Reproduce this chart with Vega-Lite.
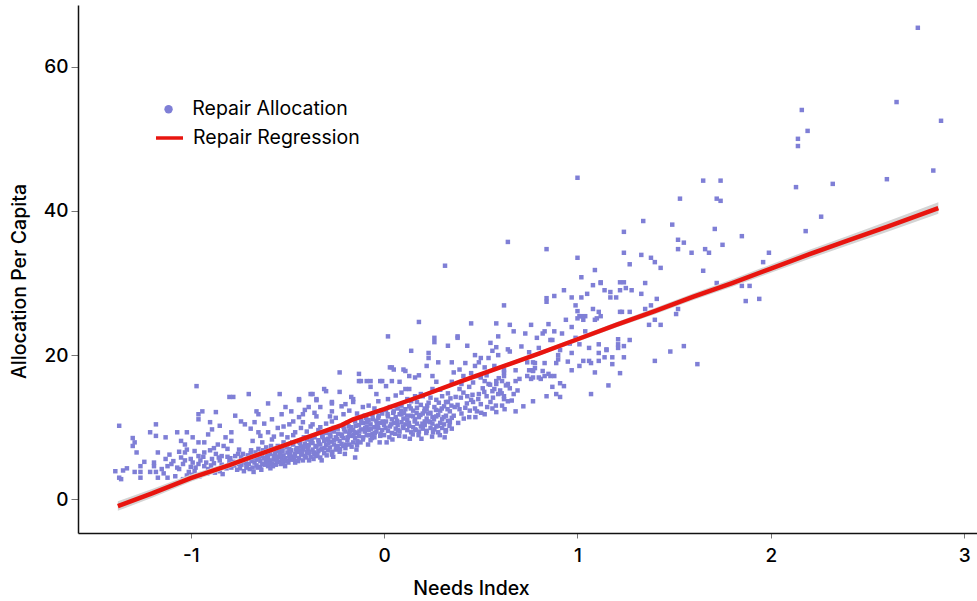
{
  "$schema": "https://vega.github.io/schema/vega-lite/v6.json",
  "width": 899,
  "height": 528,
  "autosize": {"type": "none"},
  "padding": {"left": 78, "top": 5, "right": 0, "bottom": 68},
  "background": "white",
  "config": {
    "view": {"stroke": null},
    "axis": {"grid": false, "domainColor": "#111", "domainWidth": 1.5, "tickColor": "#777", "tickWidth": 1, "labelFont": "Inter", "labelFontSize": 19, "labelFontWeight": 500, "labelColor": "#000", "titleFont": "Inter", "titleFontSize": 19.5, "titleColor": "#000", "titleFontWeight": 500},
    "legend": {"labelFont": "Inter", "labelFontSize": 19.5, "labelFontWeight": 400, "labelColor": "#000", "labelLimit": 400}
  },
  "datasets": {
    "pts": [
      {"x":-1.37,"y":10.2},{"x":-1.39,"y":3.9},{"x":-1.35,"y":4.0},{"x":-1.36,"y":2.8},{"x":-1.37,"y":3.0},{"x":-1.30,"y":8.5},{"x":-1.29,"y":7.9},{"x":-1.28,"y":6.5},{"x":-1.30,"y":7.4},{"x":-1.26,"y":4.6},{"x":-1.26,"y":3.8},{"x":-1.26,"y":3.0},{"x":-1.29,"y":3.8},{"x":-1.21,"y":9.3},{"x":-1.18,"y":10.4},{"x":-1.18,"y":8.8},{"x":-1.17,"y":6.5},{"x":-1.19,"y":5.1},{"x":-1.19,"y":4.6},{"x":-1.18,"y":3.8},{"x":-1.17,"y":3.0},{"x":-1.21,"y":3.8},{"x":-1.13,"y":8.6},{"x":-1.07,"y":9.3},{"x":-1.02,"y":9.3},{"x":-1.05,"y":8.1},{"x":-1.03,"y":7.6},{"x":-1.02,"y":6.9},{"x":-1.13,"y":5.6},{"x":-1.12,"y":4.6},{"x":-1.10,"y":4.9},{"x":-1.05,"y":5.8},{"x":-1.06,"y":4.2},{"x":-1.08,"y":3.2},{"x":-1.12,"y":3.0},{"x":-1.04,"y":4.9},{"x":-1.01,"y":3.8},{"x":-1.04,"y":2.8},
      {"x":-1.15,"y":4.2},{"x":-1.09,"y":5.3},{"x":-1.07,"y":4.4},{"x":-1.03,"y":5.4},{"x":-1.00,"y":4.5},{"x":-1.11,"y":6.2},{"x":-1.24,"y":5.2},{"x":-1.33,"y":4.3},{"x":-1.14,"y":3.6},{"x":-1.02,"y":3.3},{"x":-0.99,"y":5.1},{"x":-1.06,"y":6.6},
      {"x":-0.97,"y":15.7},{"x":-0.96,"y":11.8},{"x":-0.94,"y":12.2},{"x":-0.96,"y":11.1},{"x":-0.90,"y":10.7},{"x":-0.89,"y":9.7},{"x":-0.87,"y":12.1},{"x":-0.99,"y":8.6},{"x":-0.96,"y":7.9},{"x":-0.93,"y":7.9},{"x":-1.03,"y":6.5},{"x":-1.00,"y":5.6},{"x":-0.96,"y":6.0},{"x":-0.92,"y":5.1},{"x":-0.96,"y":4.9},{"x":-0.91,"y":4.2},{"x":-0.98,"y":3.9},{"x":-0.94,"y":3.5},{"x":-0.89,"y":5.6},{"x":-0.87,"y":6.3},{"x":-0.80,"y":14.2},{"x":-0.78,"y":14.2},{"x":-0.70,"y":14.6},{"x":-0.74,"y":10.8},{"x":-0.72,"y":10.4},{"x":-0.79,"y":9.3},{"x":-0.82,"y":8.6},{"x":-0.86,"y":7.6},{"x":-0.83,"y":7.4},{"x":-0.79,"y":8.1},{"x":-0.84,"y":6.0},{"x":-0.80,"y":5.3},{"x":-0.77,"y":6.0},{"x":-0.75,"y":6.9},{"x":-0.82,"y":4.6},{"x":-0.79,"y":4.4},{"x":-0.75,"y":4.9},{"x":-0.86,"y":4.2},{"x":-0.72,"y":5.3},
      {"x":-0.95,"y":5.4},{"x":-0.93,"y":4.6},{"x":-0.90,"y":6.8},{"x":-0.88,"y":5.0},{"x":-0.85,"y":5.4},{"x":-0.84,"y":4.8},{"x":-0.81,"y":5.9},{"x":-0.78,"y":5.2},{"x":-0.76,"y":4.1},{"x":-0.74,"y":5.8},{"x":-0.73,"y":6.3},{"x":-0.71,"y":4.6},{"x":-0.91,"y":9.0},{"x":-0.85,"y":10.2},{"x":-0.77,"y":11.6},{"x":-0.93,"y":6.5},{"x":-0.88,"y":7.1},{"x":-0.81,"y":7.0},{"x":-0.98,"y":6.7},{"x":-0.85,"y":3.9},
      {"x":-0.995,"y":3.4},{"x":-0.975,"y":4.4},{"x":-0.955,"y":3.2},{"x":-0.935,"y":5.9},{"x":-0.915,"y":3.6},{"x":-0.895,"y":4.7},{"x":-0.875,"y":3.7},{"x":-0.855,"y":5.8},{"x":-0.835,"y":3.5},{"x":-0.815,"y":4.3},{"x":-0.795,"y":5.7},{"x":-0.775,"y":4.7},{"x":-0.755,"y":6.3},
      {"x":-0.66,"y":12.2},{"x":-0.65,"y":11.8},{"x":-0.67,"y":10.7},{"x":-0.60,"y":13.3},{"x":-0.54,"y":14.6},{"x":-0.65,"y":9.3},{"x":-0.68,"y":8.1},{"x":-0.63,"y":7.9},{"x":-0.60,"y":9.3},{"x":-0.58,"y":8.3},{"x":-0.53,"y":9.0},{"x":-0.53,"y":11.8},{"x":-0.51,"y":12.8},{"x":-0.48,"y":12.2},{"x":-0.47,"y":10.8},{"x":-0.52,"y":10.1},{"x":-0.44,"y":11.4},{"x":-0.44,"y":13.75},
      {"x":-0.70,"y":4.9},{"x":-0.69,"y":5.6},{"x":-0.69,"y":6.4},{"x":-0.68,"y":4.4},{"x":-0.67,"y":5.1},{"x":-0.67,"y":6.0},{"x":-0.66,"y":4.7},{"x":-0.66,"y":5.5},{"x":-0.65,"y":6.2},{"x":-0.65,"y":7.0},{"x":-0.64,"y":4.5},{"x":-0.64,"y":5.3},{"x":-0.63,"y":6.0},{"x":-0.63,"y":4.9},{"x":-0.62,"y":5.7},{"x":-0.62,"y":6.6},{"x":-0.61,"y":5.1},{"x":-0.61,"y":7.2},{"x":-0.60,"y":5.8},{"x":-0.60,"y":4.6},{"x":-0.59,"y":6.3},{"x":-0.59,"y":5.4},{"x":-0.58,"y":7.0},{"x":-0.58,"y":4.9},{"x":-0.57,"y":6.0},{"x":-0.57,"y":5.5},{"x":-0.56,"y":6.7},{"x":-0.56,"y":4.8},{"x":-0.55,"y":5.9},{"x":-0.55,"y":7.4},{"x":-0.54,"y":5.2},{"x":-0.54,"y":6.4},{"x":-0.53,"y":5.6},{"x":-0.53,"y":6.9},{"x":-0.52,"y":5.0},{"x":-0.52,"y":6.1},{"x":-0.51,"y":7.5},{"x":-0.51,"y":5.7},{"x":-0.50,"y":6.5},{"x":-0.50,"y":5.3},{"x":-0.49,"y":7.0},{"x":-0.49,"y":6.0},{"x":-0.48,"y":5.5},{"x":-0.48,"y":6.8},{"x":-0.47,"y":7.6},{"x":-0.47,"y":5.9},{"x":-0.46,"y":6.3},{"x":-0.46,"y":5.1},{"x":-0.45,"y":7.1},{"x":-0.45,"y":6.6},{"x":-0.44,"y":5.7},{"x":-0.44,"y":8.0},{"x":-0.43,"y":6.2},{"x":-0.43,"y":7.3},{"x":-0.42,"y":5.4},{"x":-0.42,"y":6.9},{"x":-0.41,"y":7.7},{"x":-0.41,"y":6.0},{"x":-0.40,"y":6.6},{"x":-0.40,"y":8.3},
      {"x":-0.745,"y":4.3},{"x":-0.735,"y":5.6},{"x":-0.725,"y":3.9},{"x":-0.715,"y":5.0},{"x":-0.705,"y":6.1},{"x":-0.695,"y":4.2},{"x":-0.685,"y":5.3},{"x":-0.675,"y":3.8},{"x":-0.665,"y":6.5},{"x":-0.655,"y":4.4},{"x":-0.645,"y":5.9},{"x":-0.635,"y":4.1},{"x":-0.625,"y":6.8},{"x":-0.615,"y":4.8},{"x":-0.605,"y":6.2},{"x":-0.595,"y":5.0},{"x":-0.585,"y":7.4},{"x":-0.575,"y":4.6},{"x":-0.565,"y":6.4},{"x":-0.555,"y":5.3},{"x":-0.545,"y":7.0},{"x":-0.535,"y":4.9},{"x":-0.525,"y":6.7},{"x":-0.515,"y":5.4},{"x":-0.505,"y":7.2},{"x":-0.495,"y":5.1},{"x":-0.485,"y":6.3},{"x":-0.475,"y":7.9},{"x":-0.465,"y":5.6},{"x":-0.455,"y":6.9},{"x":-0.445,"y":5.3},{"x":-0.435,"y":7.8},{"x":-0.425,"y":6.4},{"x":-0.415,"y":8.6},{"x":-0.405,"y":5.8},{"x":-0.395,"y":7.1},{"x":-0.385,"y":6.6},{"x":-0.375,"y":8.4},{"x":-0.365,"y":5.6},{"x":-0.355,"y":7.4},
      {"x":-0.738,"y":4.8},{"x":-0.712,"y":4.4},{"x":-0.688,"y":6.8},{"x":-0.662,"y":5.8},{"x":-0.638,"y":6.4},{"x":-0.612,"y":5.5},{"x":-0.588,"y":4.3},{"x":-0.562,"y":5.9},{"x":-0.538,"y":6.1},{"x":-0.512,"y":4.6},{"x":-0.488,"y":5.8},{"x":-0.462,"y":6.0},{"x":-0.438,"y":6.7},{"x":-0.412,"y":7.3},{"x":-0.388,"y":5.4},{"x":-0.362,"y":6.5},
      {"x":-0.69,"y":9.8},{"x":-0.62,"y":10.5},{"x":-0.57,"y":8.7},{"x":-0.55,"y":9.9},{"x":-0.50,"y":8.6},{"x":-0.49,"y":10.4},{"x":-0.46,"y":9.3},{"x":-0.43,"y":9.9},{"x":-0.41,"y":12.4},{"x":-0.58,"y":11.1},{"x":-0.64,"y":8.8},{"x":-0.52,"y":7.9},{"x":-0.47,"y":8.9},
      {"x":-0.38,"y":14.6},{"x":-0.35,"y":13.75},{"x":-0.30,"y":15.0},{"x":-0.27,"y":13.3},{"x":-0.42,"y":10.7},{"x":-0.40,"y":9.4},{"x":-0.37,"y":10.4},{"x":-0.35,"y":11.5},{"x":-0.33,"y":10.0},{"x":-0.28,"y":11.5},{"x":-0.27,"y":10.8},{"x":-0.23,"y":14.9},{"x":-0.20,"y":13.2},{"x":-0.16,"y":13.5},{"x":-0.13,"y":16.4},{"x":-0.09,"y":16.4},{"x":-0.07,"y":15.6},{"x":-0.04,"y":14.6},{"x":-0.01,"y":16.4},{"x":0.01,"y":15.7},{"x":0.04,"y":16.4},{"x":-0.15,"y":5.8},{"x":-0.23,"y":17.6},{"x":-0.13,"y":17.4},{"x":-0.12,"y":16.4},{"x":-0.07,"y":16.4},{"x":-0.02,"y":16.4},{"x":-0.37,"y":14.6},{"x":-0.31,"y":15.3},{"x":-0.35,"y":13.9},{"x":-0.27,"y":13.5},{"x":-0.22,"y":12.9},{"x":-0.17,"y":14.2},{"x":-0.16,"y":13.9},{"x":-0.44,"y":13.9},{"x":-0.39,"y":12.8},{"x":-0.42,"y":11.8},{"x":-0.33,"y":12.8},{"x":-0.27,"y":12.2},
      {"x":-0.39,"y":6.4},{"x":-0.39,"y":7.5},{"x":-0.38,"y":5.9},{"x":-0.38,"y":8.0},{"x":-0.37,"y":6.9},{"x":-0.37,"y":7.8},{"x":-0.36,"y":6.2},{"x":-0.36,"y":8.6},{"x":-0.35,"y":7.3},{"x":-0.35,"y":6.0},{"x":-0.34,"y":8.2},{"x":-0.34,"y":6.7},{"x":-0.33,"y":7.6},{"x":-0.33,"y":5.8},{"x":-0.32,"y":8.8},{"x":-0.32,"y":7.0},{"x":-0.31,"y":6.4},{"x":-0.31,"y":8.1},{"x":-0.30,"y":7.5},{"x":-0.30,"y":9.2},{"x":-0.29,"y":6.8},{"x":-0.29,"y":8.4},{"x":-0.28,"y":7.2},{"x":-0.28,"y":9.0},{"x":-0.27,"y":6.2},{"x":-0.27,"y":8.0},{"x":-0.26,"y":7.6},{"x":-0.26,"y":9.4},{"x":-0.25,"y":6.9},{"x":-0.25,"y":8.6},{"x":-0.24,"y":7.4},{"x":-0.24,"y":9.8},{"x":-0.23,"y":8.1},{"x":-0.23,"y":6.6},{"x":-0.22,"y":9.0},{"x":-0.22,"y":7.7},{"x":-0.21,"y":8.5},{"x":-0.21,"y":10.1},{"x":-0.20,"y":7.1},{"x":-0.20,"y":9.4},{"x":-0.19,"y":8.2},{"x":-0.19,"y":10.6},{"x":-0.18,"y":7.6},{"x":-0.18,"y":9.1},{"x":-0.17,"y":8.8},{"x":-0.17,"y":10.0},{"x":-0.16,"y":7.9},{"x":-0.16,"y":9.6},{"x":-0.15,"y":8.5},{"x":-0.15,"y":10.8},{"x":-0.14,"y":9.2},{"x":-0.14,"y":7.5},{"x":-0.13,"y":10.3},{"x":-0.13,"y":8.8},{"x":-0.12,"y":9.7},{"x":-0.12,"y":11.2},{"x":-0.11,"y":8.3},{"x":-0.11,"y":10.6},{"x":-0.10,"y":9.4},{"x":-0.10,"y":11.6},{"x":-0.09,"y":8.9},{"x":-0.09,"y":10.1},{"x":-0.08,"y":9.6},{"x":-0.08,"y":11.0},{"x":-0.07,"y":8.2},{"x":-0.07,"y":10.4},{"x":-0.06,"y":9.1},{"x":-0.06,"y":11.7},{"x":-0.05,"y":10.0},{"x":-0.05,"y":8.6},{"x":-0.04,"y":10.9},{"x":-0.04,"y":9.4},{"x":-0.03,"y":11.3},{"x":-0.03,"y":9.9},{"x":-0.02,"y":8.8},{"x":-0.02,"y":10.6},{"x":-0.01,"y":9.6},{"x":-0.01,"y":11.9},{"x":0.00,"y":10.3},{"x":0.00,"y":8.9},
      {"x":-0.345,"y":6.3},{"x":-0.338,"y":7.9},{"x":-0.327,"y":6.9},{"x":-0.318,"y":8.6},{"x":-0.308,"y":7.1},{"x":-0.297,"y":6.1},{"x":-0.288,"y":7.8},{"x":-0.277,"y":8.7},{"x":-0.268,"y":6.6},{"x":-0.258,"y":8.2},{"x":-0.247,"y":7.2},{"x":-0.238,"y":9.1},{"x":-0.228,"y":7.0},{"x":-0.218,"y":8.8},{"x":-0.207,"y":9.7},{"x":-0.198,"y":7.6},{"x":-0.188,"y":8.6},{"x":-0.178,"y":9.5},{"x":-0.168,"y":7.3},{"x":-0.158,"y":8.9},{"x":-0.147,"y":10.2},{"x":-0.138,"y":8.1},{"x":-0.128,"y":9.4},{"x":-0.118,"y":10.8},{"x":-0.108,"y":8.6},{"x":-0.098,"y":9.9},{"x":-0.088,"y":10.7},{"x":-0.078,"y":8.9},{"x":-0.068,"y":9.8},{"x":-0.058,"y":11.1},{"x":-0.048,"y":9.2},{"x":-0.038,"y":10.3},{"x":-0.028,"y":11.6},{"x":-0.018,"y":9.1},{"x":-0.008,"y":10.8},
      {"x":-0.333,"y":9.3},{"x":-0.302,"y":8.3},{"x":-0.272,"y":9.6},{"x":-0.243,"y":8.4},{"x":-0.212,"y":7.4},{"x":-0.183,"y":10.1},{"x":-0.153,"y":9.3},{"x":-0.122,"y":7.9},{"x":-0.093,"y":11.3},{"x":-0.063,"y":8.5},{"x":-0.033,"y":10.0},{"x":-0.013,"y":12.3},{"x":-0.323,"y":5.4},{"x":-0.263,"y":5.9},{"x":-0.203,"y":6.3},{"x":-0.143,"y":6.9},{"x":-0.083,"y":7.6},{"x":-0.023,"y":7.9},
      {"x":-0.38,"y":10.1},{"x":-0.34,"y":9.6},{"x":-0.30,"y":10.5},{"x":-0.25,"y":11.3},{"x":-0.21,"y":11.8},{"x":-0.18,"y":12.3},{"x":-0.14,"y":11.9},{"x":-0.11,"y":12.8},{"x":-0.08,"y":13.0},{"x":-0.05,"y":12.6},{"x":-0.03,"y":13.6},{"x":-0.36,"y":12.0},{"x":-0.26,"y":9.9},
      {"x":0.04,"y":18.3},{"x":0.10,"y":18.0},{"x":0.13,"y":17.1},{"x":0.08,"y":16.3},{"x":0.13,"y":15.3},{"x":0.16,"y":14.3},{"x":0.17,"y":13.5},{"x":0.12,"y":13.9},{"x":0.06,"y":12.9},{"x":0.09,"y":11.8},{"x":0.15,"y":11.5},{"x":0.21,"y":10.8},{"x":0.22,"y":18.5},{"x":0.25,"y":17.1},{"x":0.27,"y":16.3},{"x":0.25,"y":15.3},{"x":0.30,"y":14.3},{"x":0.32,"y":13.5},{"x":0.20,"y":14.3},{"x":0.22,"y":12.5},{"x":0.27,"y":11.5},{"x":0.34,"y":10.7},{"x":0.03,"y":18.3},{"x":0.05,"y":18.0},{"x":0.11,"y":17.8},{"x":0.16,"y":16.9},{"x":0.18,"y":17.2},{"x":0.18,"y":24.6},{"x":0.02,"y":22.6},{"x":0.26,"y":22.4},{"x":0.26,"y":21.8},{"x":0.14,"y":20.6},{"x":0.23,"y":20.3},{"x":0.23,"y":19.6},{"x":0.28,"y":19.0},{"x":0.315,"y":32.4},
      {"x":0.01,"y":10.8},{"x":0.01,"y":12.4},{"x":0.02,"y":9.5},{"x":0.02,"y":11.5},{"x":0.03,"y":10.1},{"x":0.03,"y":12.8},{"x":0.04,"y":9.2},{"x":0.04,"y":11.1},{"x":0.05,"y":10.6},{"x":0.05,"y":12.2},{"x":0.06,"y":9.8},{"x":0.06,"y":11.4},{"x":0.07,"y":10.3},{"x":0.07,"y":12.6},{"x":0.08,"y":9.4},{"x":0.08,"y":11.8},{"x":0.09,"y":10.7},{"x":0.09,"y":13.0},{"x":0.10,"y":9.9},{"x":0.10,"y":11.2},{"x":0.11,"y":10.4},{"x":0.11,"y":12.5},{"x":0.12,"y":9.6},{"x":0.12,"y":11.0},{"x":0.13,"y":10.2},{"x":0.13,"y":12.9},{"x":0.14,"y":9.3},{"x":0.14,"y":11.6},{"x":0.15,"y":10.0},{"x":0.15,"y":12.3},{"x":0.16,"y":9.7},{"x":0.16,"y":11.1},{"x":0.17,"y":10.5},{"x":0.17,"y":12.7},{"x":0.18,"y":9.4},{"x":0.18,"y":11.4},{"x":0.19,"y":10.1},{"x":0.19,"y":13.1},{"x":0.20,"y":9.8},{"x":0.20,"y":11.9},{"x":0.21,"y":10.3},{"x":0.21,"y":12.6},{"x":0.22,"y":9.5},{"x":0.22,"y":11.2},{"x":0.23,"y":10.8},{"x":0.23,"y":13.4},{"x":0.24,"y":9.9},{"x":0.24,"y":12.0},{"x":0.25,"y":10.5},{"x":0.25,"y":11.4},{"x":0.26,"y":9.7},{"x":0.26,"y":12.8},{"x":0.27,"y":10.1},{"x":0.28,"y":11.7},{"x":0.28,"y":9.3},{"x":0.29,"y":10.6},{"x":0.29,"y":12.3},{"x":0.30,"y":9.9},{"x":0.30,"y":11.1},{"x":0.31,"y":10.4},{"x":0.31,"y":12.9},{"x":0.32,"y":9.6},{"x":0.32,"y":11.6},{"x":0.33,"y":10.9},{"x":0.34,"y":12.2},{"x":0.35,"y":9.8},{"x":0.35,"y":11.3},
      {"x":0.008,"y":9.9},{"x":0.018,"y":11.8},{"x":0.027,"y":8.6},{"x":0.037,"y":10.4},{"x":0.047,"y":12.0},{"x":0.057,"y":9.1},{"x":0.067,"y":10.9},{"x":0.078,"y":8.8},{"x":0.088,"y":12.3},{"x":0.097,"y":10.1},{"x":0.107,"y":8.7},{"x":0.118,"y":11.6},{"x":0.128,"y":10.6},{"x":0.138,"y":12.6},{"x":0.148,"y":9.0},{"x":0.158,"y":10.8},{"x":0.168,"y":12.0},{"x":0.178,"y":8.9},{"x":0.188,"y":11.7},{"x":0.198,"y":10.5},{"x":0.208,"y":12.2},{"x":0.218,"y":9.2},{"x":0.228,"y":11.9},{"x":0.238,"y":10.7},{"x":0.248,"y":8.7},{"x":0.258,"y":11.1},{"x":0.268,"y":12.4},{"x":0.278,"y":10.2},{"x":0.288,"y":8.9},{"x":0.298,"y":12.6},{"x":0.308,"y":11.4},{"x":0.318,"y":9.4},{"x":0.328,"y":12.5},{"x":0.338,"y":10.2},{"x":0.348,"y":13.0},
      {"x":0.013,"y":7.9},{"x":0.043,"y":8.3},{"x":0.073,"y":9.6},{"x":0.103,"y":12.0},{"x":0.133,"y":8.4},{"x":0.163,"y":9.6},{"x":0.193,"y":8.4},{"x":0.223,"y":13.0},{"x":0.253,"y":9.3},{"x":0.283,"y":13.4},{"x":0.313,"y":8.6},{"x":0.343,"y":14.0},
      {"x":0.02,"y":13.9},{"x":0.06,"y":14.4},{"x":0.09,"y":14.8},{"x":0.14,"y":13.6},{"x":0.19,"y":14.6},{"x":0.24,"y":14.1},{"x":0.29,"y":15.2},{"x":0.33,"y":14.7},{"x":0.27,"y":13.8},{"x":0.11,"y":15.3},
      {"x":0.45,"y":24.4},{"x":0.58,"y":24.4},{"x":0.38,"y":22.6},{"x":0.38,"y":22.4},{"x":0.33,"y":21.3},{"x":0.43,"y":21.3},{"x":0.58,"y":21.1},{"x":0.59,"y":22.6},{"x":0.47,"y":20.0},{"x":0.50,"y":19.6},{"x":0.54,"y":19.6},{"x":0.56,"y":20.6},{"x":0.59,"y":20.0},{"x":0.62,"y":17.6},{"x":0.65,"y":15.4},{"x":0.67,"y":14.6},{"x":0.62,"y":14.3},{"x":0.64,"y":13.6},{"x":0.68,"y":12.2},{"x":0.57,"y":18.5},{"x":0.58,"y":16.4},{"x":0.58,"y":16.0},{"x":0.61,"y":16.4},{"x":0.62,"y":17.1},{"x":0.64,"y":16.0},{"x":0.57,"y":15.3},{"x":0.59,"y":14.6},{"x":0.62,"y":13.9},{"x":0.47,"y":18.5},{"x":0.48,"y":17.1},{"x":0.50,"y":16.9},{"x":0.52,"y":16.4},{"x":0.54,"y":16.0},{"x":0.53,"y":14.3},{"x":0.56,"y":15.0},{"x":0.58,"y":12.1},{"x":0.35,"y":19.0},{"x":0.39,"y":18.0},{"x":0.41,"y":17.1},{"x":0.35,"y":16.3},{"x":0.39,"y":15.3},{"x":0.43,"y":14.3},{"x":0.46,"y":13.5},{"x":0.48,"y":12.2},{"x":0.39,"y":12.5},{"x":0.33,"y":13.5},{"x":0.68,"y":17.9},{"x":0.68,"y":16.4},{"x":0.70,"y":16.7},{"x":0.64,"y":20.8},{"x":0.65,"y":20.5},{"x":0.62,"y":17.9},{"x":0.62,"y":26.9},{"x":0.64,"y":35.7},{"x":0.65,"y":24.2},{"x":0.67,"y":23.3},
      {"x":0.36,"y":11.6},{"x":0.37,"y":14.2},{"x":0.38,"y":13.1},{"x":0.40,"y":11.9},{"x":0.41,"y":14.8},{"x":0.42,"y":12.7},{"x":0.44,"y":15.6},{"x":0.44,"y":11.4},{"x":0.45,"y":13.8},{"x":0.46,"y":16.2},{"x":0.47,"y":12.6},{"x":0.49,"y":14.6},{"x":0.50,"y":13.2},{"x":0.51,"y":15.4},{"x":0.52,"y":11.8},{"x":0.53,"y":17.2},{"x":0.55,"y":13.5},{"x":0.56,"y":12.6},{"x":0.60,"y":15.1},{"x":0.61,"y":13.0},{"x":0.63,"y":15.8},{"x":0.66,"y":13.7},{"x":0.69,"y":15.1},{"x":0.40,"y":16.0},{"x":0.36,"y":17.6},{"x":0.42,"y":18.9},{"x":0.45,"y":17.5},{"x":0.49,"y":19.0},{"x":0.52,"y":18.3},{"x":0.55,"y":21.7},
      {"x":0.365,"y":12.8},{"x":0.383,"y":10.6},{"x":0.397,"y":14.1},{"x":0.412,"y":11.2},{"x":0.428,"y":13.3},{"x":0.443,"y":12.3},{"x":0.457,"y":14.5},{"x":0.472,"y":11.4},{"x":0.487,"y":13.9},{"x":0.502,"y":12.0},{"x":0.518,"y":14.9},{"x":0.533,"y":12.8},{"x":0.548,"y":15.9},{"x":0.563,"y":14.1},{"x":0.578,"y":13.0},{"x":0.593,"y":16.8},{"x":0.608,"y":14.7},{"x":0.623,"y":12.5},
      {"x":0.76,"y":24.2},{"x":0.85,"y":24.3},{"x":0.83,"y":23.3},{"x":0.82,"y":23.0},{"x":0.88,"y":23.3},{"x":0.92,"y":23.0},{"x":0.79,"y":22.4},{"x":0.87,"y":22.1},{"x":0.74,"y":19.0},{"x":0.77,"y":19.0},{"x":0.78,"y":18.2},{"x":0.82,"y":17.8},{"x":0.86,"y":17.1},{"x":0.87,"y":15.6},{"x":0.74,"y":17.1},{"x":0.77,"y":17.8},{"x":0.76,"y":16.7},{"x":0.81,"y":16.7},{"x":0.91,"y":16.1},{"x":0.93,"y":15.7},{"x":0.72,"y":12.9},{"x":0.84,"y":14.3},{"x":0.89,"y":14.6},{"x":0.91,"y":14.2},{"x":1.07,"y":14.6},{"x":0.77,"y":13.6},{"x":0.84,"y":34.7},{"x":1.00,"y":33.5},{"x":1.00,"y":44.6},{"x":1.02,"y":30.8},{"x":1.09,"y":31.8},{"x":1.08,"y":29.7},{"x":1.12,"y":30.0},{"x":0.93,"y":29.0},{"x":0.88,"y":28.2},{"x":0.97,"y":28.0},{"x":1.02,"y":28.0},{"x":1.05,"y":28.5},{"x":0.84,"y":27.9},{"x":0.84,"y":27.4},{"x":0.99,"y":26.9},{"x":1.00,"y":26.1},{"x":1.01,"y":25.4},{"x":1.00,"y":25.1},{"x":1.02,"y":25.4},{"x":1.03,"y":24.9},{"x":1.04,"y":25.4},{"x":1.08,"y":26.4},{"x":1.11,"y":26.0},{"x":1.12,"y":25.4},{"x":1.10,"y":25.1},{"x":1.09,"y":24.9},{"x":0.94,"y":24.9},{"x":0.97,"y":23.9},{"x":1.23,"y":26.0},{"x":1.11,"y":21.5},{"x":1.06,"y":21.0},{"x":1.01,"y":21.5},{"x":0.97,"y":20.3},{"x":0.91,"y":20.7},{"x":0.90,"y":20.0},{"x":0.90,"y":19.4},{"x":0.89,"y":18.9},{"x":0.86,"y":22.1},{"x":0.80,"y":21.0},{"x":0.83,"y":18.9},{"x":0.78,"y":18.9},{"x":0.75,"y":17.9},{"x":0.77,"y":17.9},{"x":1.03,"y":19.2},{"x":1.06,"y":19.2},{"x":1.07,"y":18.9},{"x":1.11,"y":19.2},{"x":1.11,"y":20.3},{"x":1.15,"y":20.7},{"x":1.01,"y":18.5},{"x":1.09,"y":17.6},{"x":0.97,"y":17.9},{"x":0.83,"y":17.1},{"x":0.85,"y":17.4},{"x":0.88,"y":17.1},{"x":0.80,"y":16.9},{"x":0.77,"y":16.9},{"x":1.16,"y":15.8},{"x":1.14,"y":19.7},{"x":1.18,"y":19.7},{"x":1.24,"y":19.7},{"x":1.18,"y":18.75},{"x":1.22,"y":17.5},{"x":1.15,"y":20.8},{"x":1.21,"y":21.0},{"x":1.21,"y":21.5},{"x":1.21,"y":22.2},{"x":1.24,"y":21.25},{"x":1.27,"y":22.1},{"x":1.12,"y":30.1},{"x":1.14,"y":29.0},{"x":1.22,"y":30.1},{"x":1.24,"y":30.1},{"x":1.17,"y":28.75},{"x":1.20,"y":28.0},{"x":1.17,"y":28.0},{"x":1.25,"y":29.3},{"x":1.28,"y":29.0},{"x":1.22,"y":29.0},{"x":1.33,"y":28.5},{"x":1.35,"y":30.0},{"x":1.24,"y":34.2},{"x":1.24,"y":37.1},{"x":1.27,"y":32.6},{"x":1.27,"y":26.0},{"x":1.22,"y":26.0},
      {"x":0.71,"y":21.2},{"x":0.73,"y":23.0},{"x":0.75,"y":20.4},{"x":0.95,"y":19.1},{"x":0.99,"y":22.4},{"x":1.04,"y":23.3},{"x":0.96,"y":21.6},
      {"x":1.34,"y":38.6},{"x":1.49,"y":38.1},{"x":1.53,"y":41.7},{"x":1.72,"y":41.7},{"x":1.74,"y":41.4},{"x":1.65,"y":44.2},{"x":1.74,"y":44.2},{"x":1.71,"y":37.5},{"x":1.52,"y":36.0},{"x":1.55,"y":35.6},{"x":1.52,"y":34.7},{"x":1.66,"y":34.7},{"x":1.68,"y":34.2},{"x":1.59,"y":34.2},{"x":1.75,"y":35.3},{"x":1.85,"y":36.5},{"x":1.33,"y":33.9},{"x":1.38,"y":33.5},{"x":1.40,"y":32.9},{"x":1.43,"y":32.1},{"x":1.65,"y":31.7},{"x":1.96,"y":32.9},{"x":1.99,"y":34.2},{"x":1.85,"y":29.6},{"x":1.89,"y":29.6},{"x":1.87,"y":27.5},{"x":1.94,"y":27.8},{"x":1.72,"y":30.0},{"x":1.62,"y":18.75},{"x":1.55,"y":21.25},{"x":1.48,"y":20.5},{"x":1.40,"y":19.2},{"x":1.43,"y":24.2},{"x":1.37,"y":24.2},{"x":1.40,"y":24.9},{"x":1.51,"y":25.7},{"x":1.52,"y":26.4},{"x":1.41,"y":27.8},{"x":1.38,"y":26.9},{"x":1.35,"y":26.4},
      {"x":2.16,"y":54.0},{"x":2.19,"y":51.1},{"x":2.14,"y":50.0},{"x":2.14,"y":49.0},{"x":2.13,"y":43.3},{"x":2.32,"y":43.75},{"x":2.26,"y":39.2},{"x":2.18,"y":37.2},{"x":2.60,"y":44.4},{"x":2.84,"y":45.6},{"x":2.65,"y":55.1},{"x":2.88,"y":52.5},{"x":2.76,"y":65.4}
    ],
    "fit": [
      {"x":-1.377,"fit":-0.93,"lo":-1.6,"hi":-0.25},
      {"x":-1.2,"fit":0.82,"lo":0.22,"hi":1.42},
      {"x":-1.0,"fit":2.95,"lo":2.45,"hi":3.45},
      {"x":-0.8,"fit":4.75,"lo":4.35,"hi":5.15},
      {"x":-0.6,"fit":6.7,"lo":6.35,"hi":7.05},
      {"x":-0.4,"fit":8.6,"lo":8.3,"hi":8.9},
      {"x":-0.22,"fit":10.3,"lo":10.05,"hi":10.55},
      {"x":-0.16,"fit":11.1,"lo":10.85,"hi":11.35},
      {"x":0.0,"fit":12.5,"lo":12.25,"hi":12.75},
      {"x":0.2,"fit":14.4,"lo":14.15,"hi":14.65},
      {"x":0.4,"fit":16.4,"lo":16.15,"hi":16.65},
      {"x":0.6,"fit":18.3,"lo":18.03,"hi":18.57},
      {"x":0.8,"fit":20.2,"lo":19.9,"hi":20.5},
      {"x":1.0,"fit":22.2,"lo":21.87,"hi":22.53},
      {"x":1.2,"fit":24.2,"lo":23.83,"hi":24.57},
      {"x":1.4,"fit":26.1,"lo":25.68,"hi":26.52},
      {"x":1.6,"fit":28.1,"lo":27.63,"hi":28.57},
      {"x":1.8,"fit":30.0,"lo":29.48,"hi":30.52},
      {"x":2.0,"fit":32.0,"lo":31.43,"hi":32.57},
      {"x":2.2,"fit":34.0,"lo":33.38,"hi":34.62},
      {"x":2.4,"fit":35.9,"lo":35.23,"hi":36.57},
      {"x":2.6,"fit":37.8,"lo":37.08,"hi":38.52},
      {"x":2.866,"fit":40.4,"lo":39.6,"hi":41.2}
    ]
  },
  "layer": [
    {
      "data": {"name": "pts"},
      "mark": {"type": "point", "shape": "square", "filled": true, "size": 20, "opacity": 1},
      "encoding": {
        "x": {"field": "x", "type": "quantitative", "scale": {"domain": [-1.583, 3.066], "nice": false, "zero": false},
          "axis": {"values": [-1, 0, 1, 2, 3], "labelExpr": "'' + datum.value", "tickSize": 5, "labelPadding": 8, "title": "Needs Index", "titleX": 393, "titleY": 61, "titleBaseline": "alphabetic", "titleAlign": "center", "titleAnchor": null}},
        "y": {"field": "y", "type": "quantitative", "scale": {"domain": [-4.67, 68.56], "nice": false, "zero": false},
          "axis": {"values": [0, 20, 40, 60], "tickSize": 7, "labelPadding": 3, "title": "Allocation Per Capita", "titleX": -53, "titleY": 276, "titleAngle": -90, "titleBaseline": "alphabetic", "titleAlign": "center", "titleAnchor": null}},
        "fill": {"datum": "Repair Allocation", "type": "nominal",
          "scale": {"range": ["#7f7fd6"]},
          "legend": {"title": null, "orient": "none", "legendX": 80.8, "legendY": 94.5, "padding": 0, "symbolType": "circle", "symbolSize": 70, "symbolStrokeWidth": 0, "labelOffset": 14}
        }
      }
    },
    {
      "data": {"name": "fit"},
      "mark": {"type": "area", "color": "#d4d4d4", "opacity": 1},
      "encoding": {
        "x": {"field": "x", "type": "quantitative"},
        "y": {"field": "lo", "type": "quantitative"},
        "y2": {"field": "hi"}
      }
    },
    {
      "data": {"name": "fit"},
      "mark": {"type": "line", "strokeWidth": 4.5, "strokeCap": "butt"},
      "encoding": {
        "x": {"field": "x", "type": "quantitative"},
        "y": {"field": "fit", "type": "quantitative"},
        "stroke": {"datum": "Repair Regression", "type": "nominal",
          "scale": {"range": ["#e8150f"]},
          "legend": {"title": null, "orient": "none", "legendX": 76, "legendY": 117.5, "padding": 0, "symbolType": "stroke", "symbolSize": 729, "symbolStrokeWidth": 3.5, "labelOffset": 8}
        }
      }
    }
  ]
}
